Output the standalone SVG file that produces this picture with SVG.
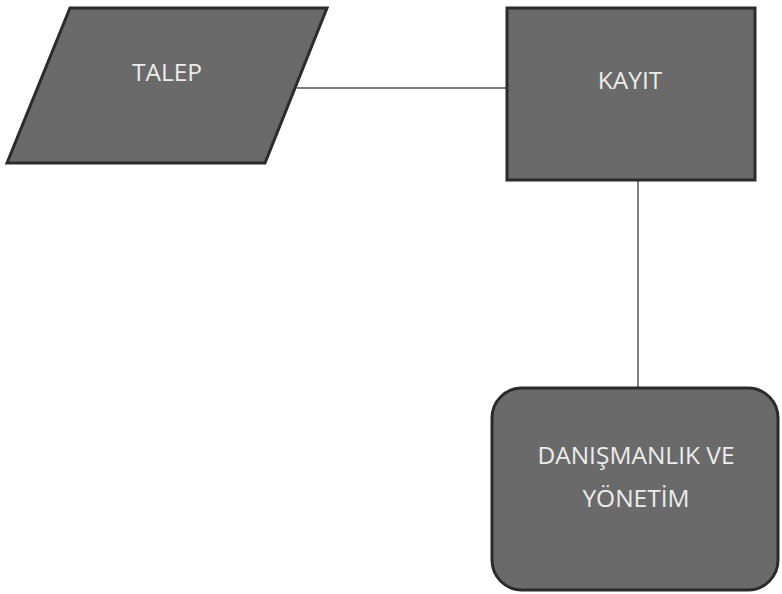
<svg xmlns="http://www.w3.org/2000/svg" width="782" height="594" viewBox="0 0 782 594">
<style>
.shape{fill:#6a6a6a;stroke:#2b2b2b;stroke-width:3}
.lbl{font-family:"Open Sans","Liberation Sans",sans-serif;font-size:24.5px;fill:#ececec;text-anchor:middle}
.conn{stroke:#555555;stroke-width:1.5;fill:none}
</style>
<rect width="782" height="594" fill="#ffffff"/>
<g id="connectors">
<line class="conn" x1="297" y1="88" x2="507" y2="88"/>
<line class="conn" x1="638" y1="180" x2="638" y2="388"/>
</g>
<g id="talep">
<polygon class="shape" points="70,8 327,8 265,163 7,163"/>
<text class="lbl" x="167" y="81">TALEP</text>
</g>
<g id="kayit">
<rect class="shape" x="507" y="8" width="248" height="172"/>
<text class="lbl" x="630" y="89">KAYIT</text>
</g>
<g id="danismanlik">
<rect class="shape" x="492" y="388" width="286" height="202" rx="30" ry="30"/>
<text class="lbl" x="636" y="464">DANIŞMANLIK VE</text>
<text class="lbl" x="636" y="507">YÖNETİM</text>
</g>
</svg>
